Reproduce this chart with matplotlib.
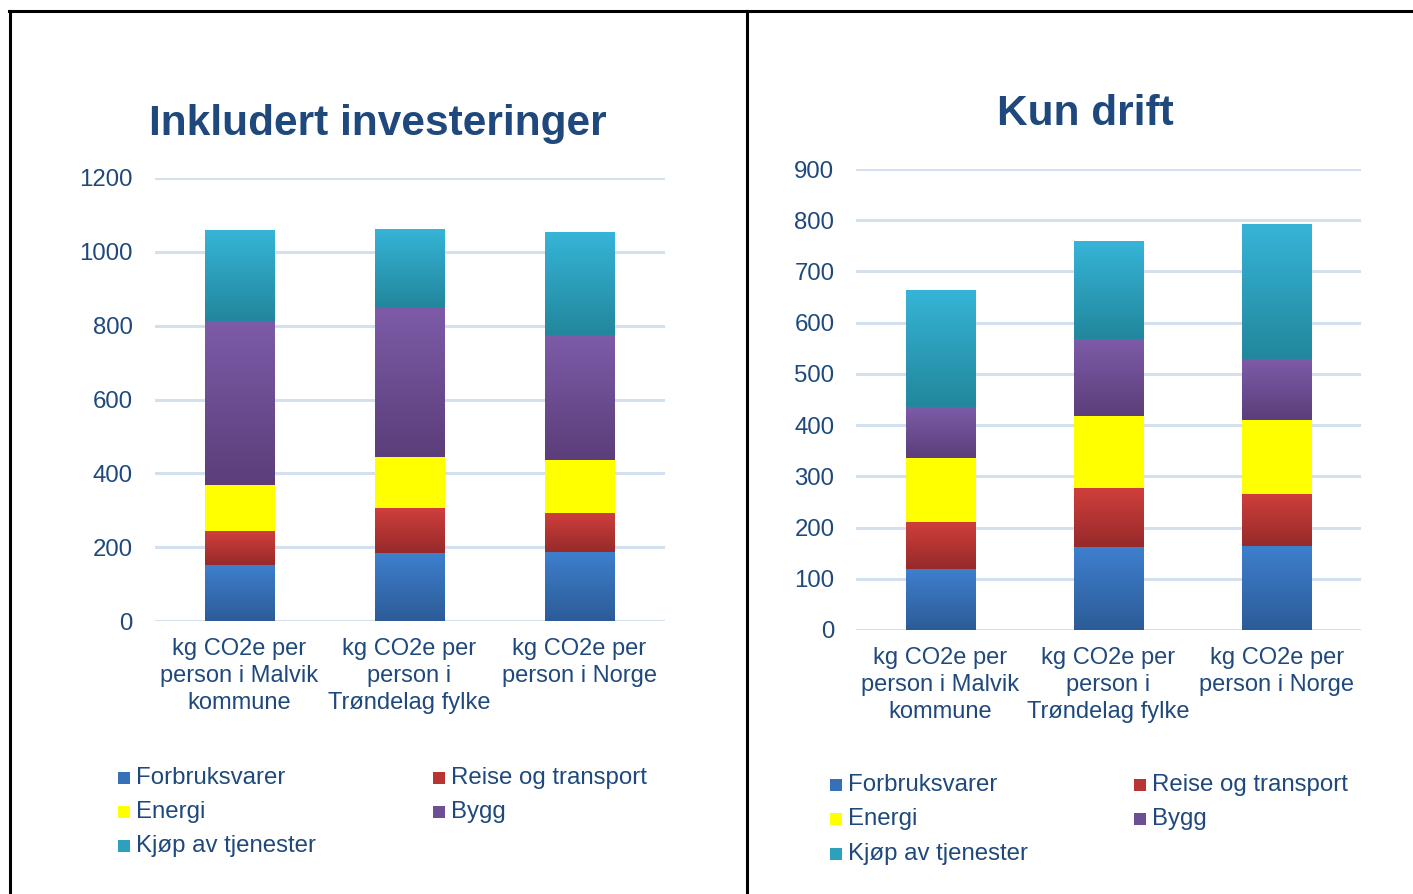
import numpy as np
import matplotlib.pyplot as plt
from matplotlib.patches import Rectangle
from matplotlib.lines import Line2D
from matplotlib.colors import LinearSegmentedColormap

plt.rcParams['font.family'] = ['Liberation Sans', 'DejaVu Sans']

# ---------------- data ----------------
categories = ["kg CO2e per\nperson i Malvik\nkommune",
              "kg CO2e per\nperson i\nTrøndelag fylke",
              "kg CO2e per\nperson i Norge"]
series = ["Forbruksvarer", "Reise og transport", "Energi", "Bygg", "Kjøp av tjenester"]

# Inkludert investeringer
inv_forbruk = [152, 184, 187]
inv_reise = [92, 122, 106]
inv_energi = [124, 138, 143]
inv_bygg = [445, 406, 339]
inv_tjenester = [246, 212, 279]

# Kun drift
drift_forbruk = [119, 162, 164]
drift_reise = [92, 115, 102]
drift_energi = [125, 141, 144]
drift_bygg = [99, 150, 119]
drift_tjenester = [229, 191, 264]

# (top colour, bottom colour) for the vertical gradient of each series
grad = [("#3E7FCD", "#2C5C98"),
        ("#CF3F3C", "#972A2A"),
        ("#FFFF00", "#FFFF00"),
        ("#7D5BA8", "#5B3E7A"),
        ("#36B4D7", "#22879D")]
legend_col = ["#3670B8", "#B83534", "#FFFF00", "#6E4F96", "#2DA0BE"]

txt_col = "#1F497D"
grid_col = "#D5E0EF"

W, H = 1413, 894
fig = plt.figure(figsize=(W / 100, H / 100), dpi=100)


def fx(px):
    return px / W


def fy(py):
    return 1 - py / H


def gradient_bars(ax, bars, c_top, c_bot):
    cmap = LinearSegmentedColormap.from_list("g", [c_bot, c_top])
    g = np.linspace(0, 1, 64).reshape(-1, 1)
    for b in bars:
        x0, y0 = b.get_x(), b.get_y()
        im = ax.imshow(g, cmap=cmap, origin="lower", aspect="auto",
                       extent=(x0, x0 + b.get_width(), y0, y0 + b.get_height()),
                       zorder=3, interpolation="bilinear")
        im.set_clip_path(b)


def stacked(ax, stacks, ymax, step):
    x = np.arange(len(categories))
    bottom = np.zeros(len(categories))
    for vals, (ct, cb) in zip(stacks, grad):
        bars = ax.bar(x, vals, 0.41, bottom=bottom, color=cb, zorder=2,
                      linewidth=0)
        gradient_bars(ax, bars, ct, cb)
        bottom += np.array(vals)
    ax.set_xlim(-0.5, len(categories) - 0.5)
    ax.set_ylim(0, ymax)
    ax.set_yticks(np.arange(0, ymax + 1, step))
    ax.set_xticks(x)
    ax.set_xticklabels(categories, fontsize=17, color=txt_col, linespacing=1.3)
    ax.tick_params(axis="y", length=0, pad=15.5, labelsize=17.3, labelcolor=txt_col)
    ax.tick_params(axis="x", length=0, pad=12)
    ax.yaxis.grid(True, color=grid_col, lw=2.2, zorder=0)
    ax.set_axisbelow(True)
    for s in ax.spines.values():
        s.set_visible(False)


ax1 = fig.add_axes([fx(154.5), fy(621), fx(510), (621 - 178) / H])
stacked(ax1, [inv_forbruk, inv_reise, inv_energi, inv_bygg, inv_tjenester], 1200, 200)

ax2 = fig.add_axes([fx(856), fy(630), fx(505), (630 - 169) / H])
stacked(ax2, [drift_forbruk, drift_reise, drift_energi, drift_bygg, drift_tjenester], 900, 100)

fig.text(fx(378), fy(124), "Inkludert investeringer", ha="center", va="center",
         fontsize=30.5, fontweight="bold", color=txt_col)
fig.text(fx(1085), fy(114), "Kun drift", ha="center", va="center",
         fontsize=30.5, fontweight="bold", color=txt_col)


# legends, row-major in two columns
def legend(x_cols, y_rows):
    for i, (name, c) in enumerate(zip(series, legend_col)):
        col, row = i % 2, i // 2
        mx, my = x_cols[col], y_rows[row]
        fig.add_artist(Rectangle((fx(mx), fy(my + 6)), fx(12), 12 / H,
                                 transform=fig.transFigure, facecolor=c,
                                 edgecolor="none"))
        fig.text(fx(mx + 18), fy(my), name, ha="left", va="center",
                 fontsize=17.3, color=txt_col)


legend([118, 433], [778, 812, 846])
legend([830, 1134], [785, 819, 854])

# panel borders
lw = 2.2
fig.add_artist(Line2D([fx(9), 1], [fy(11), fy(11)], color="black", lw=lw,
                      transform=fig.transFigure))
fig.add_artist(Line2D([fx(10), fx(10)], [fy(11), 0], color="black", lw=lw,
                      transform=fig.transFigure))
fig.add_artist(Line2D([fx(747), fx(747)], [fy(11), 0], color="black", lw=lw,
                      transform=fig.transFigure))

fig.savefig("out.png", dpi=100)
